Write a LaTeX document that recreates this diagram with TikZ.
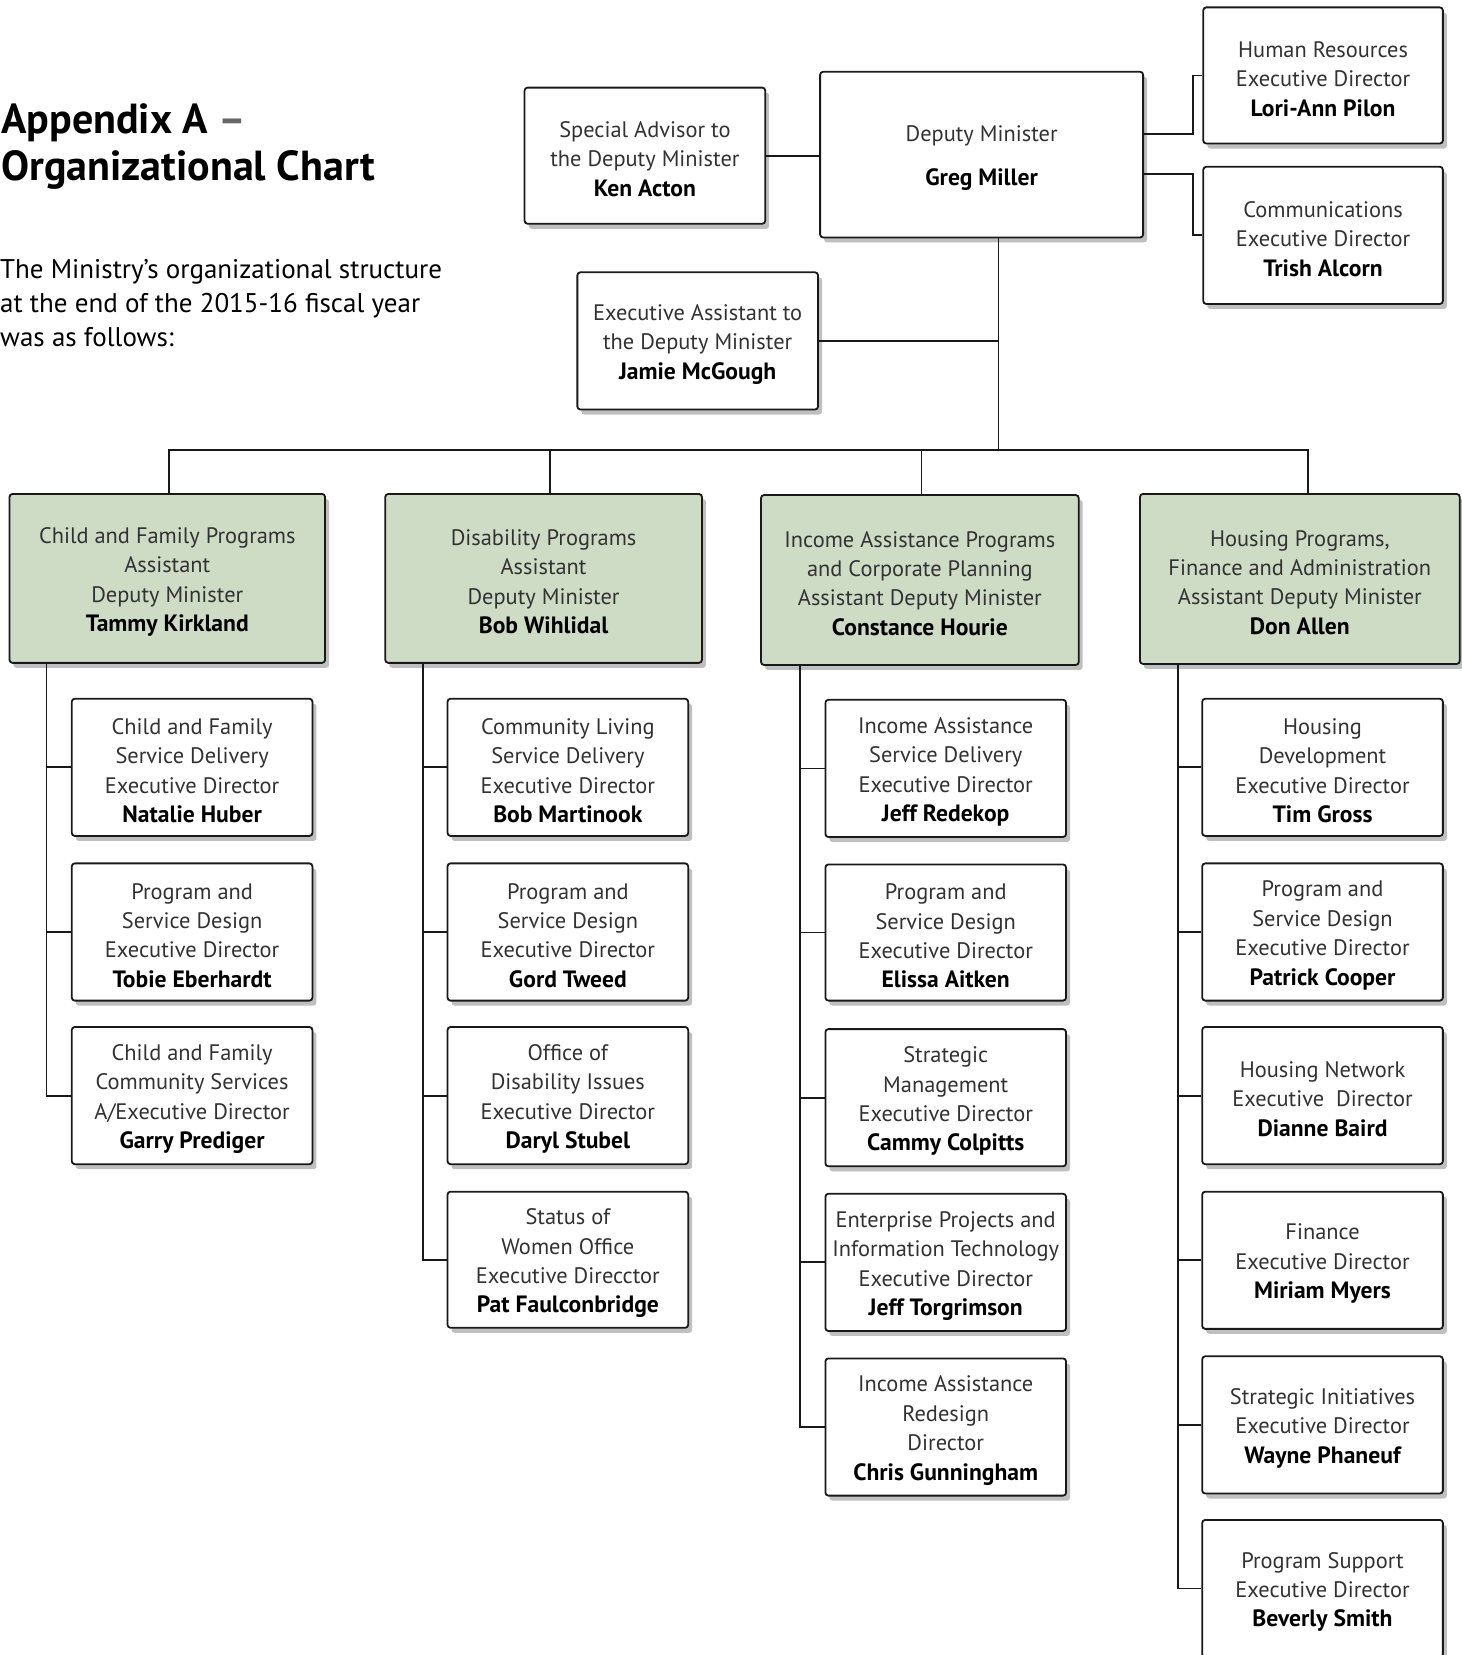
\documentclass[tikz,border=0pt]{standalone}
\usepackage{fontspec}
\setmainfont{PT Sans}
\usetikzlibrary{fit,shadows}
\definecolor{admgreen}{RGB}{206,220,198}
\definecolor{txt}{RGB}{50,50,50}
\newcommand\nm[1]{{\fontsize{23.6}{29.4}\selectfont\bfseries\color{black}#1}}
\newcommand\bx[7]{\node[#1, fit={(#3,#4)(#5,#6)}] (#2) {};
  \node[boxtext] (#2t) at ([yshift=-3.5pt]#2.center) {#7};}
\begin{document}
\begin{tikzpicture}[x=1.0556pt,y=-1.0556pt,
  base/.style={draw=black!90, line width=1.8pt, rounded corners=3pt, inner sep=0pt,
    drop shadow={shadow xshift=4pt, shadow yshift=-5pt, fill=black, opacity=0.25}},
  boxtext/.style={inner sep=0pt, align=center, font=\fontsize{22.4}{29.4}\selectfont, text=txt},
  wbox/.style={base, fill=white},
  gbox/.style={base, fill=admgreen},
  conn/.style={line width=1.8pt, draw=black!90}]
\useasboundingbox (0,0) rectangle (1385,1568);
\fill[white] (0,0) rectangle (1385,1568);

% title and text
\node[anchor=west, inner sep=0pt, align=left, font=\fontsize{42}{47.5}\selectfont\bfseries] (title) at (1,139)
  {Appendix A \textcolor{black!60}{–}\\Organizational Chart};
\node[anchor=west, inner sep=0pt, align=left, font=\fontsize{27}{33.8}\selectfont] (intro) at (0,287)
  {The Ministry’s organizational structure\\at the end of the 2015-16 fiscal year\\was as follows:};

% top level
\bx{wbox}{sa}{497}{83}{725}{212}{Special Advisor to\\the Deputy Minister\\\nm{Ken Acton}}
\bx{wbox}{dm}{777}{68}{1083}{225}{Deputy Minister\\[14pt]\nm{Greg Miller}}
\bx{wbox}{hr}{1140}{7}{1367}{136}{Human Resources\\Executive Director\\\nm{Lori-Ann Pilon}}
\bx{wbox}{comms}{1140}{158}{1367}{288}{Communications\\Executive Director\\\nm{Trish Alcorn}}
\bx{wbox}{ea}{547}{258}{775}{388}{Executive Assistant to\\the Deputy Minister\\\nm{Jamie McGough}}

% ADMs
\bx{gbox}{adm1}{9}{468}{308}{628}{Child and Family Programs\\Assistant\\Deputy Minister\\\nm{Tammy Kirkland}}
\bx{gbox}{adm2}{365}{468}{665}{628}{Disability Programs\\Assistant\\Deputy Minister\\\nm{Bob Wihlidal}}
\bx{gbox}{adm3}{721}{469}{1022}{630}{Income Assistance Programs\\and Corporate Planning\\Assistant Deputy Minister\\\nm{Constance Hourie}}
\bx{gbox}{adm4}{1080}{468}{1383}{629}{Housing Programs,\\Finance and Administration\\Assistant Deputy Minister\\\nm{Don Allen}}

% column 1
\bx{wbox}{c1a}{68}{662}{296}{792}{Child and Family\\Service Delivery\\Executive Director\\\nm{Natalie Huber}}
\bx{wbox}{c1b}{68}{818}{296}{948}{Program and\\Service Design\\Executive Director\\\nm{Tobie Eberhardt}}
\bx{wbox}{c1c}{68}{973}{296}{1103}{Child and Family\\Community Services\\A/Executive Director\\\nm{Garry Prediger}}
% column 2
\bx{wbox}{c2a}{424}{662}{652}{792}{Community Living\\Service Delivery\\Executive Director\\\nm{Bob Martinook}}
\bx{wbox}{c2b}{424}{818}{652}{948}{Program and\\Service Design\\Executive Director\\\nm{Gord Tweed}}
\bx{wbox}{c2c}{424}{973}{652}{1103}{Office of\\Disability Issues\\Executive Director\\\nm{Daryl Stubel}}
\bx{wbox}{c2d}{424}{1129}{652}{1258}{Status of\\Women Office\\Executive Direcctor\\\nm{Pat Faulconbridge}}
% column 3
\bx{wbox}{c3a}{782}{663}{1010}{793}{Income Assistance\\Service Delivery\\Executive Director\\\nm{Jeff Redekop}}
\bx{wbox}{c3b}{782}{819}{1010}{948}{Program and\\Service Design\\Executive Director\\\nm{Elissa Aitken}}
\bx{wbox}{c3c}{782}{975}{1010}{1105}{Strategic\\Management\\Executive Director\\\nm{Cammy Colpitts}}
\bx{wbox}{c3d}{782}{1131}{1010}{1261}{Enterprise Projects and\\Information Technology\\Executive Director\\\nm{Jeff Torgrimson}}
\bx{wbox}{c3e}{782}{1287}{1010}{1417}{Income Assistance\\Redesign\\Director\\\nm{Chris Gunningham}}
% column 4
\bx{wbox}{c4a}{1139}{662}{1367}{792}{Housing\\Development\\Executive Director\\\nm{Tim Gross}}
\bx{wbox}{c4b}{1139}{818}{1367}{948}{Program and\\Service Design\\Executive Director\\\nm{Patrick Cooper}}
\bx{wbox}{c4c}{1139}{973}{1367}{1103}{Housing Network\\Executive\ \ Director\\\nm{Dianne Baird}}
\bx{wbox}{c4d}{1139}{1129}{1367}{1259}{Finance\\Executive Director\\\nm{Miriam Myers}}
\bx{wbox}{c4e}{1139}{1285}{1367}{1415}{Strategic Initiatives\\Executive Director\\\nm{Wayne Phaneuf}}
\bx{wbox}{c4f}{1139}{1440}{1367}{1570}{Program Support\\Executive Director\\\nm{Beverly Smith}}

% connectors at top
\coordinate (bar) at (946,426);
\coordinate (j1) at (1130,127);
\coordinate (j2) at (1130,165);
\coordinate (d1) at (160,0);
\coordinate (d2) at (521,0);
\coordinate (d3) at (873,0);
\coordinate (d4) at (1239,0);
\draw[conn] (dm.south -| bar) -- (bar);
\draw[conn] (adm1.north -| d1) |- (bar);
\draw[conn] (bar) -| (adm4.north -| d4);
\draw[conn] (adm2.north -| d2) -- (bar -| d2);
\draw[conn] (adm3.north -| d3) -- (bar -| d3);
\draw[conn] (ea.east) -- (ea.east -| bar);
\draw[conn] (sa.east) -- (sa.east -| dm.west);
\draw[conn] (dm.east |- j1) -- (j1) |- (hr.west);
\draw[conn] (dm.east |- j2) -- (j2) |- (comms.west);

% spines
\coordinate (s1) at (44,0);
\coordinate (s2) at (401,0);
\coordinate (s3) at (758,0);
\coordinate (s4) at (1116,0);
\draw[conn] (adm1.south -| s1) |- (c1c.west);
\foreach \c in {c1a,c1b} \draw[conn] (\c.west -| s1) -- (\c.west);
\draw[conn] (adm2.south -| s2) |- (c2d.west);
\foreach \c in {c2a,c2b,c2c} \draw[conn] (\c.west -| s2) -- (\c.west);
\draw[conn] (adm3.south -| s3) |- (c3e.west);
\foreach \c in {c3a,c3b,c3c,c3d} \draw[conn] (\c.west -| s3) -- (\c.west);
\draw[conn] (adm4.south -| s4) |- (c4f.west);
\foreach \c in {c4a,c4b,c4c,c4d,c4e} \draw[conn] (\c.west -| s4) -- (\c.west);
\end{tikzpicture}
\end{document}
